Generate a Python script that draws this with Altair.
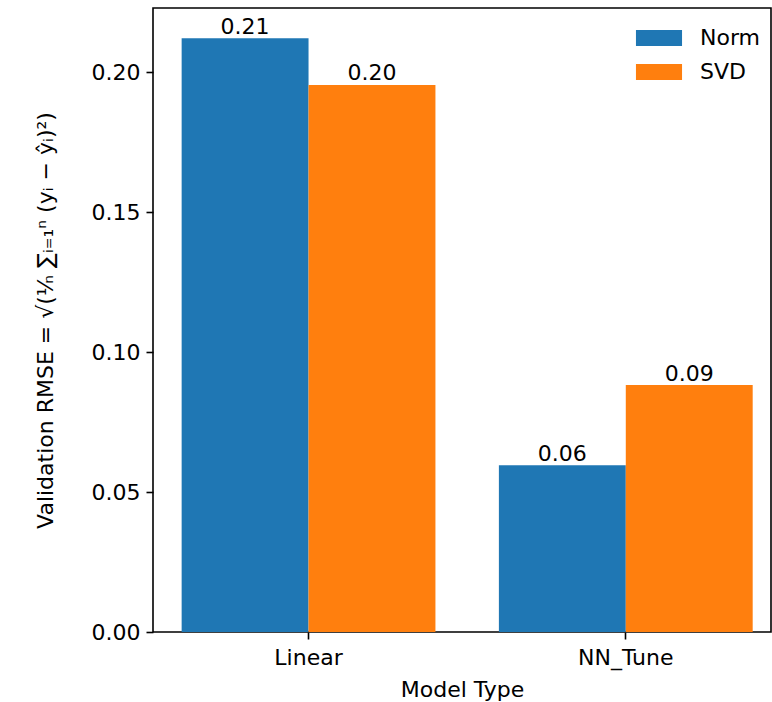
import altair as alt
import pandas as pd

models = ["Linear", "NN_Tune"]
series = ["Norm", "SVD"]
norm_rmse = [0.2121, 0.0596]
svd_rmse = [0.1954, 0.0882]
colors = ["#1f77b4", "#ff7f0e"]
y_ticks = [0.0, 0.05, 0.10, 0.15, 0.20]

rows = []
for i, m in enumerate(models):
    rows.append({"Model": m, "Method": series[0], "RMSE": norm_rmse[i]})
    rows.append({"Model": m, "Method": series[1], "RMSE": svd_rmse[i]})
df = pd.DataFrame(rows)

FONT = "DejaVu Sans"
FS = 22
ylabel = "Validation RMSE = √(¹⁄ₙ ∑ᵢ₌₁ⁿ (yᵢ − ŷᵢ)²)"

x_enc = alt.X(
    "Model:N",
    sort=models,
    scale=alt.Scale(paddingInner=0.2, paddingOuter=0.074, align=0.61),
    axis=alt.Axis(
        title="Model Type", labelAngle=0, labelFontSize=FS, titleFontSize=FS,
        labelFont=FONT, titleFont=FONT, titleFontWeight="normal",
        tickSize=7, tickWidth=1.6, tickColor="black", labelColor="black",
        titleColor="black", labelPadding=8, titlePadding=11, domain=False,
    ),
)
xoff_enc = alt.XOffset("Method:N", sort=series, scale=alt.Scale(paddingInner=0, paddingOuter=0))
y_enc = alt.Y(
    "RMSE:Q",
    scale=alt.Scale(domain=[0, 0.2229], nice=False, zero=True),
    axis=alt.Axis(
        title=ylabel, values=y_ticks, format=".2f", grid=False, domain=False,
        labelFontSize=FS, titleFontSize=FS, labelFont=FONT, titleFont=FONT,
        titleFontWeight="normal", tickSize=7, tickWidth=1.6, tickColor="black",
        labelColor="black", titleColor="black", labelPadding=6,
        titleX=-108, titleY=312, titleAngle=270, titleAlign="center",
        titleBaseline="middle",
    ),
)

bars = alt.Chart(df).mark_bar().encode(
    x=x_enc,
    xOffset=xoff_enc,
    y=y_enc,
    color=alt.Color(
        "Method:N",
        sort=series,
        scale=alt.Scale(domain=series, range=colors),
        legend=alt.Legend(
            title=None, orient="none", legendX=490, legendY=14,
            labelFontSize=FS, labelFont=FONT, labelColor="black",
            symbolType="M-1.44,-0.5L1.44,-0.5L1.44,0.5L-1.44,0.5Z",
            symbolSize=1024, symbolStrokeWidth=0, symbolOpacity=1,
            labelOffset=25, padding=0, rowPadding=7,
        ),
    ),
)

labels = alt.Chart(df).mark_text(
    baseline="alphabetic", dy=-4.5, fontSize=FS, font=FONT, color="black"
).encode(
    x=alt.X("Model:N", sort=models),
    xOffset=alt.XOffset("Method:N", sort=series),
    y=alt.Y("RMSE:Q"),
    text=alt.Text("RMSE:Q", format=".2f"),
)

chart = (
    alt.layer(bars, labels)
    .properties(
        width=618, height=624,
        autosize=alt.AutoSizeParams(type="none"),
        padding={"left": 153, "top": 8, "right": 1, "bottom": 70},
        background="white",
    )
    .configure_view(stroke="black", strokeWidth=1.6)
)

chart.save("out.html", embed_options={"renderer": "svg", "actions": False})
